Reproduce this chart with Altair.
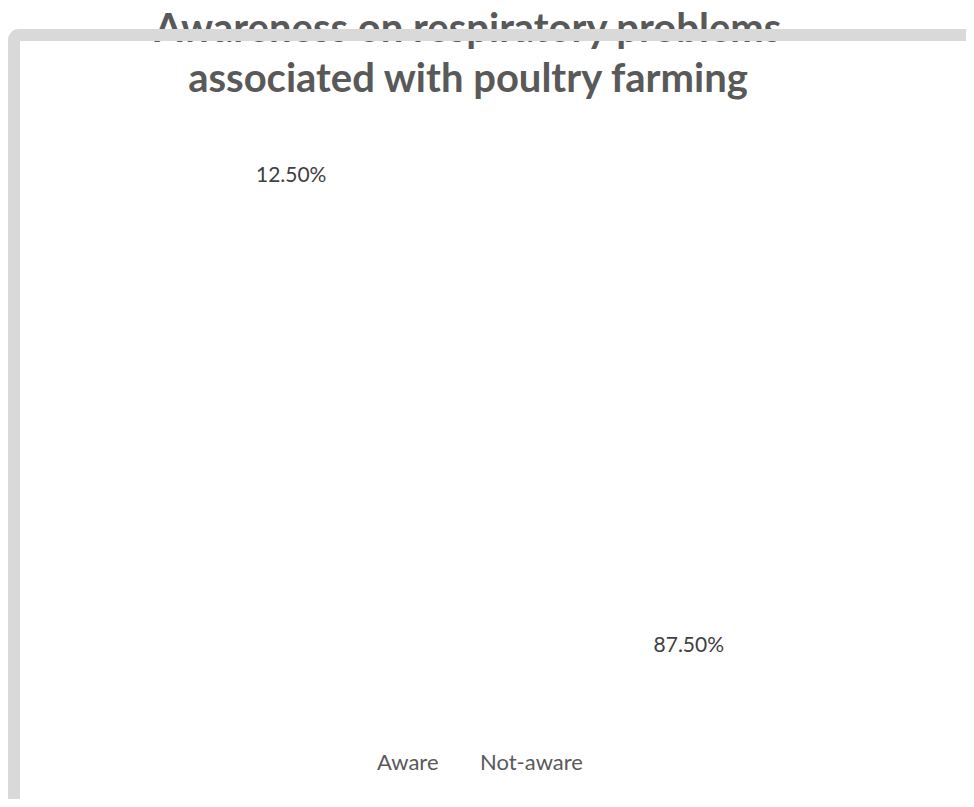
import math
import altair as alt
import pandas as pd

# ---- data ----
categories = ["Aware", "Not-aware"]
values = [12.5, 87.5]
title_lines = ["Awareness on respiratory problems", "associated with poultry farming"]

df = pd.DataFrame({
    "category": categories,
    "value": values,
    "order": list(range(len(categories))),
    "label": [f"{v:.2f}%" for v in values],
})

W, H = 958, 791
CX, CY = 482, 403
start = 2 * math.pi - math.radians(62.7)

theta = alt.Theta("value:Q", stack=True,
                  scale=alt.Scale(domain=[0, 100], range=[start, start + 2 * math.pi]))

base = alt.Chart(df).encode(
    theta=theta,
    order=alt.Order("order:Q"),
    x=alt.value(CX),
    y=alt.value(CY),
)

pie = base.mark_arc(outerRadius=250, stroke="#ffffff").encode(
    color=alt.Color(
        "category:N",
        scale=alt.Scale(domain=categories, range=["#ffffff", "#ffffff"]),
        legend=alt.Legend(
            title=None, orient="none", direction="horizontal",
            legendX=341, legendY=744,
            symbolType="square", symbolSize=100, symbolOpacity=0,
            labelFont="Lato", labelFontSize=22, labelColor="#595959",
            labelOffset=6, columnPadding=13,
        ),
    )
)

labels = base.mark_text(radius=308, font="Lato", fontSize=21, color="#404040").encode(
    text="label:N"
)

title = alt.Chart(pd.DataFrame({"t": ["\n".join(title_lines)]})).mark_text(
    font="Lato", fontSize=40, fontWeight="bold", color="#595959",
    align="center", baseline="alphabetic", lineBreak="\n", lineHeight=50,
).encode(text="t:N", x=alt.value(460), y=alt.value(34))

frame = alt.Chart(pd.DataFrame({"f": [0]})).mark_rect(
    filled=False, stroke="#d9d9d9", strokeWidth=12, cornerRadius=5
).encode(x=alt.value(6), x2=alt.value(1400), y=alt.value(27), y2=alt.value(1400))

chart = alt.layer(pie, labels, title, frame).properties(
    width=W, height=H, autosize="none", padding=0
).configure_view(stroke=None)

chart.save("out.html", embed_options={"renderer": "svg", "actions": False})
